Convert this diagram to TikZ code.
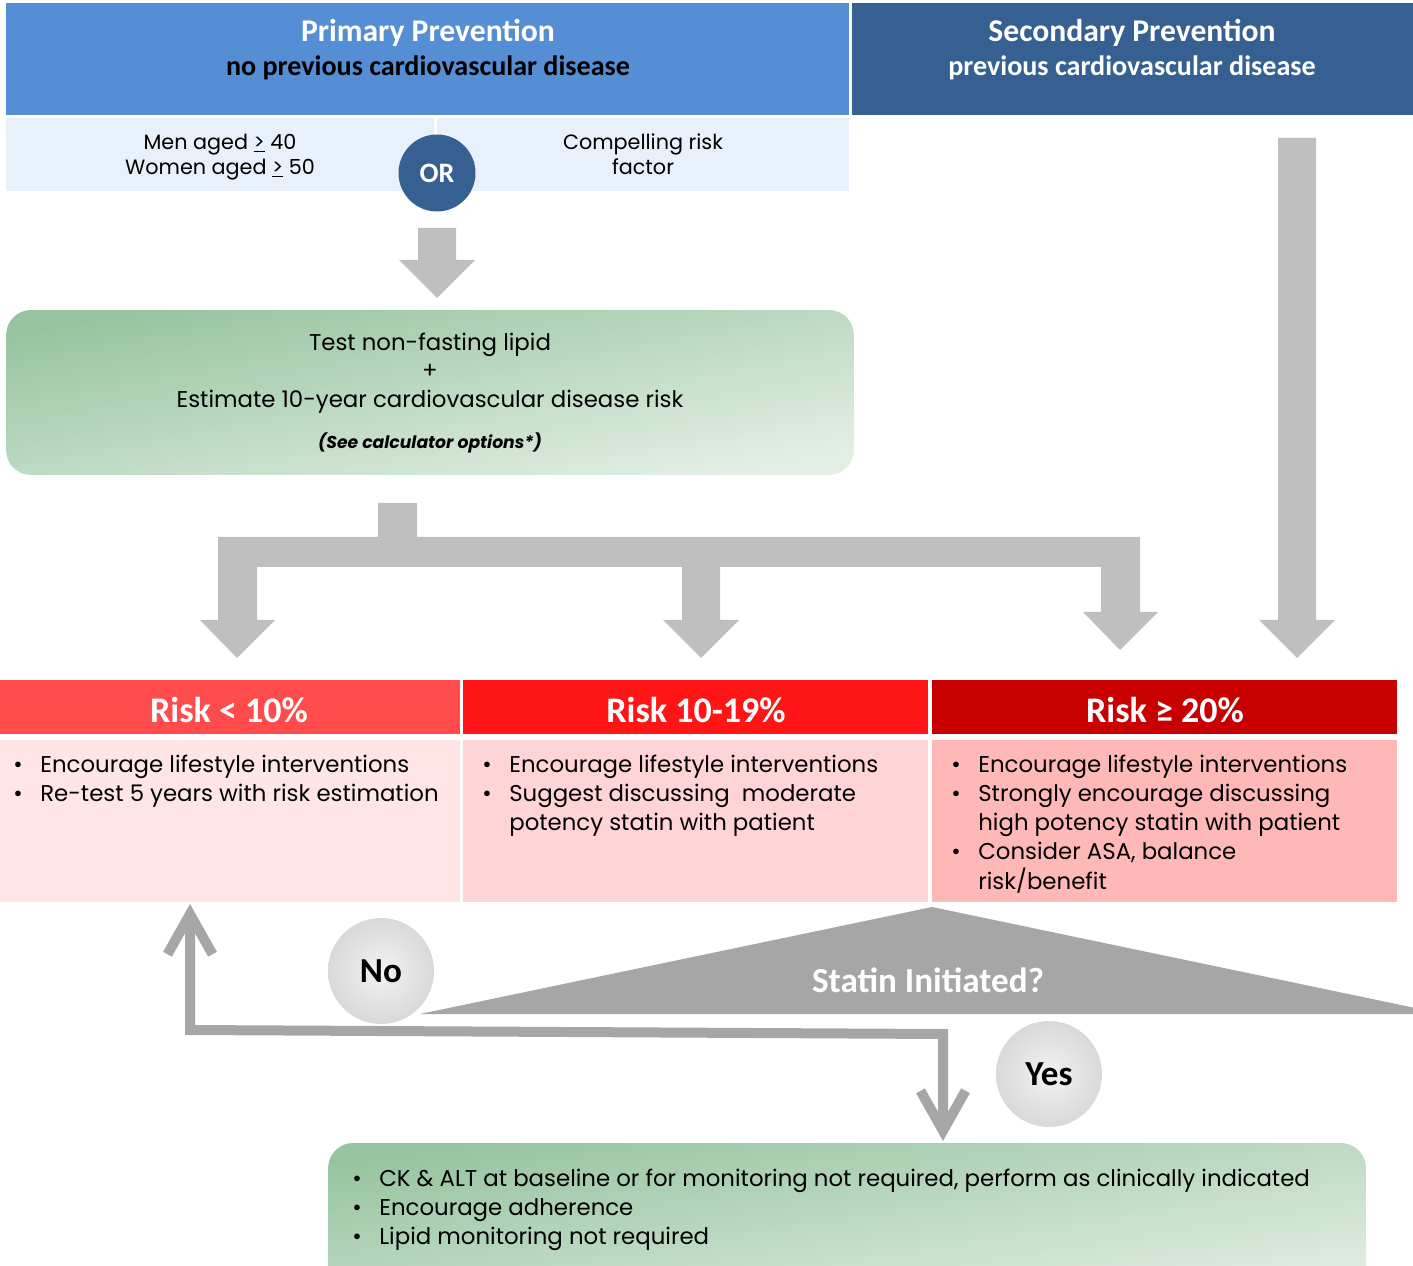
\documentclass[tikz,border=0pt]{standalone}
\usepackage{fontspec}
\setmainfont{Poppins}
\newfontfamily\headfont{Carlito}
\usetikzlibrary{positioning,calc,arrows.meta}

\definecolor{primblue}{HTML}{558ED5}
\definecolor{secblue}{HTML}{366092}
\definecolor{rowblue}{HTML}{E8F0FC}
\definecolor{arrowgray}{HTML}{BFBFBF}
\definecolor{trigray}{HTML}{A6A6A6}
\definecolor{riskA}{HTML}{FF4B4B}
\definecolor{riskB}{HTML}{FF1515}
\definecolor{riskC}{HTML}{C80000}
\definecolor{bodyA}{HTML}{FFE5E6}
\definecolor{bodyB}{HTML}{FFD4D6}
\definecolor{bodyC}{HTML}{FFB8B8}
\definecolor{greenA}{HTML}{97C49F}
\definecolor{greenB}{HTML}{E3EFE5}

\tikzset{
  headtxt/.style={font=\headfont\bfseries\fontsize{18}{20}\selectfont, inner sep=0pt},
  subtxt/.style={font=\headfont\bfseries\fontsize{16}{18}\selectfont, inner sep=0pt},
  risktxt/.style={font=\headfont\bfseries\fontsize{20.5}{22}\selectfont, text=white, inner sep=0pt},
  rowtxt/.style={font=\fontsize{11.8}{14.2}\selectfont, align=center, inner sep=0pt},
  bodytxt/.style={font=\fontsize{13}{16.5}\selectfont, anchor=north west, inner sep=0pt, align=left},
  greenbox/.style={rounded corners=0.5cm, top color=greenA, bottom color=greenB, shading angle=#1},
  ball/.style={circle, minimum size=2.12cm, inner color=white!95!black, outer color=black!15,
    font=\headfont\bfseries\fontsize{20}{22}\selectfont},
  flowline/.style={draw=trigray, line width=0.2cm,
    {Straight Barb[length=0.8cm,width=0.9cm]}-{Straight Barb[length=0.8cm,width=0.9cm]}}
}

\newcommand\fatdown[3]{\fill[arrowgray] (#1-19,#2) -- (#1+19,#2) -- (#1+19,#3-38) -- (#1+38,#3-38)
  -- (#1,#3) -- (#1-38,#3-38) -- (#1-19,#3-38) -- cycle;}
\newcommand\bulletlist[1]{\begin{tabular}{@{}l@{\hspace{10pt}}l@{}}#1\end{tabular}}

\begin{document}
\begin{tikzpicture}[x=0.02cm,y=-0.02cm]
\clip (0,0) rectangle (1413,1266);
% headers
\fill[primblue] (6,3) rectangle (849,115);
\fill[secblue] (852,3) rectangle (1413,115);
\node[headtxt, text=white] (prim) at (428,33) {Primary Prevention};
\node[subtxt] (primsub) at (428,68) {no previous cardiovascular disease};
\node[headtxt, text=white] (sec) at (1132,33) {Secondary Prevention};
\node[subtxt, text=white] (secsub) at (1132,68) {previous cardiovascular disease};
\fill[rowblue] (6,118) rectangle (434,191);
\fill[rowblue] (437,118) rectangle (849,191);
\node[rowtxt] (age) at (220,157) {Men aged \underline{>} 40\\Women aged \underline{>} 50};
\node[rowtxt] (comp) at (643,154) {Compelling risk\\factor};
\node[circle, fill=secblue, minimum size=1.54cm, text=white,
  font=\headfont\bfseries\fontsize{16}{18}\selectfont] (or) at (437,173) {OR};

% lipid test
\fatdown{437}{228}{298}
\node[greenbox=11, minimum width=16.96cm, minimum height=3.3cm] (test) at (430,392.5) {};
\node[font=\fontsize{13}{16.2}\selectfont, align=center, inner sep=0pt] (testtxt) at (430,373)
  {Test non-fasting lipid\\+\\Estimate 10-year cardiovascular disease risk};
\node[font=\fontsize{9.8}{11}\selectfont\bfseries\itshape, inner sep=0pt] (calc) at (430,443)
  {(See calculator options*)};

% branching arrows
\fill[arrowgray] (378,503) -- (417,503) -- (417,537) -- (1140,537) -- (1140,612) -- (1158,612)
  -- (1120,650) -- (1083,612) -- (1101,612) -- (1101,567) -- (720,567) -- (720,620) -- (739,620)
  -- (701,658) -- (663,620) -- (682,620) -- (682,567) -- (257,567) -- (257,620) -- (275,620)
  -- (237,658) -- (200,620) -- (218,620) -- (218,537) -- (378,537) -- cycle;
\fatdown{1297}{138}{658}

% risk groups
\fill[riskA] (0,680) rectangle (460,734);
\fill[riskB] (463,680) rectangle (928,734);
\fill[riskC] (932,680) rectangle (1397,734);
\fill[bodyA] (0,740) rectangle (460,902);
\fill[bodyB] (463,740) rectangle (928,902);
\fill[bodyC] (932,740) rectangle (1397,902);
\node[risktxt] (low) at (229,710) {Risk < 10\%};
\node[risktxt] (mid) at (696,710) {Risk 10-19\%};
\node[risktxt] (high) at (1165,710) {Risk ≥ 20\%};
\node[bodytxt] (lowtxt) at (13,752) {\bulletlist{\textbullet & Encourage lifestyle interventions\\
  \textbullet & Re-test 5 years with risk estimation}};
\node[bodytxt] (midtxt) at (482,752) {\bulletlist{\textbullet & Encourage lifestyle interventions\\
  \textbullet & Suggest discussing\ \ moderate\\ & potency statin with patient}};
\node[bodytxt] (hightxt) at (951,752) {\bulletlist{\textbullet & Encourage lifestyle interventions\\
  \textbullet & Strongly encourage discussing\\ & high potency statin with patient\\
  \textbullet & Consider ASA, balance\\ & risk/benefit}};

% statin decision
\fill[trigray] (932,907) -- (1444,1014) -- (420,1014) -- cycle;
\node[font=\headfont\bfseries\fontsize{20}{22}\selectfont, text=white, inner sep=0pt] (statin)
  at (928,980) {Statin Initiated?};
\coordinate (notip) at (190,904);
\coordinate (upturn) at (190,1030);
\coordinate (downturn) at (943,1034);
\coordinate (yestip) at (943,1141);
\draw[flowline] (notip) -- (upturn) -- (downturn) -- (yestip);
\node[ball] (no) at (381,971) {No};
\node[ball] (yes) at (1049,1074) {Yes};

% follow up
\node[greenbox=9, minimum width=20.76cm, minimum height=3.2cm] (follow) at (847,1223) {};
\node[bodytxt] (followtxt) at (352,1166) {\bulletlist{\textbullet & CK \& ALT at baseline or for monitoring not required, perform as clinically indicated\\
  \textbullet & Encourage adherence\\ \textbullet & Lipid monitoring not required}};
\end{tikzpicture}
\end{document}
